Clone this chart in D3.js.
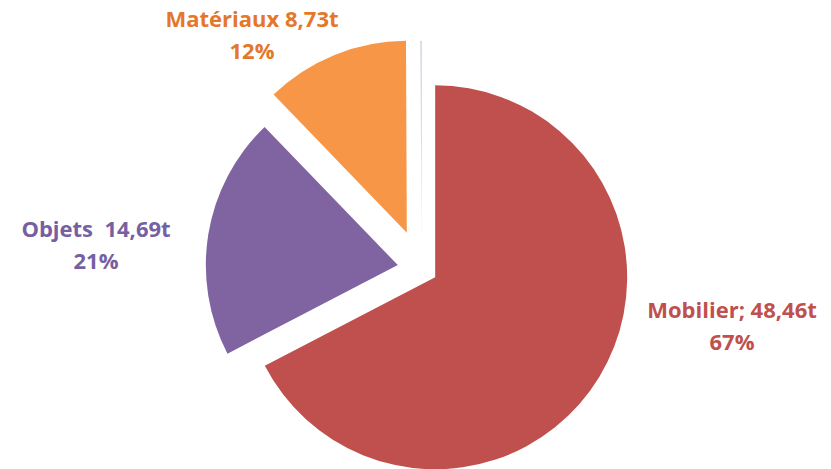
<!DOCTYPE html>
<html><head><meta charset="utf-8">
<script src="https://cdn.jsdelivr.net/npm/d3@7"></script>
<style>html,body{margin:0;padding:0;background:#fff;}svg{display:block;}</style>
</head><body>
<svg id="c" width="831" height="469"></svg>
<script>
// Data
const categories = ["Mobilier", "Objets", "Matériaux", "Autres"];
const values = [48.46, 14.69, 8.73, 0.05];
const valueLabels = ["Mobilier; 48,46t", "Objets  14,69t", "Matériaux 8,73t", ""];
const percentLabels = ["67%", "21%", "12%", ""];

// Styles / layout
const fills = ["#C0504D", "#8064A2", "#F79646", "#A9B4C6"];
const textColors = ["#C0504D", "#7660A2", "#E5772A", "#A9B4C6"];
const explode = [16, 24, 39, 36];
const labelPos = [[732, 318], [96, 237], [252, 27], null];
const cx = 421.5, cy = 269, R = 192;

const svg = d3.select("#c");
const pie = d3.pie().sort(null).value(d => d)(values);
const arc = d3.arc().innerRadius(0).outerRadius(R);
const g = svg.append("g").attr("transform", `translate(${cx},${cy})`);

g.selectAll("path").data(pie).join("path")
  .attr("d", arc)
  .attr("fill", (d, i) => fills[i])
  .attr("transform", (d, i) => {
    const a = (d.startAngle + d.endAngle) / 2;
    return `translate(${Math.sin(a) * explode[i]},${-Math.cos(a) * explode[i]})`;
  });

const lg = svg.append("g").attr("font-family", "'Open Sans', Lato, sans-serif")
  .attr("font-weight", "bold").attr("font-size", 22).attr("text-anchor", "middle");
categories.forEach((c, i) => {
  if (!labelPos[i]) return;
  const t = lg.append("text").attr("fill", textColors[i]);
  t.append("tspan").attr("x", labelPos[i][0]).attr("y", labelPos[i][1]).attr("xml:space","preserve").text(valueLabels[i]);
  t.append("tspan").attr("x", labelPos[i][0]).attr("y", labelPos[i][1] + 32).text(percentLabels[i]);
});
</script>
</body></html>
